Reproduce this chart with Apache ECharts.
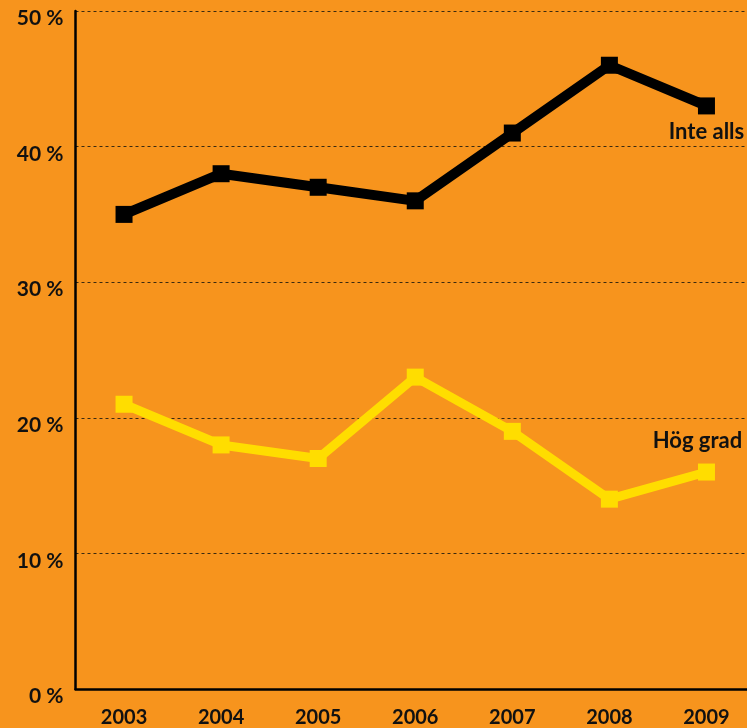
<!DOCTYPE html>
<html>
<head>
<meta charset="utf-8">
<script src="https://cdn.jsdelivr.net/npm/echarts@6/dist/echarts.min.js"></script>
<style>
html,body{margin:0;padding:0;background:#F7941D;overflow:hidden;}
#c{width:755px;height:728px;}
</style>
</head>
<body>
<div id="c"></div>
<script>
const years = ['2003','2004','2005','2006','2007','2008','2009'];
const inteAlls = [35, 38, 37, 36, 41, 46, 43];
const hogGrad = [21, 18, 17, 23, 19, 14, 16];
const seriesNames = ['Inte alls', 'Hög grad'];

const FONT = 'Lato';
const chart = echarts.init(document.getElementById('c'));

function withEndLabel(arr, labelCfg) {
  return arr.map((v, i) => i === arr.length - 1 ? { value: v, label: labelCfg } : v);
}

chart.setOption({
  backgroundColor: '#F7941D',
  animation: false,
  grid: { left: 75.5, right: 0, top: 11, bottom: 38.5 },
  xAxis: {
    type: 'category',
    data: years,
    boundaryGap: true,
    axisLine: { lineStyle: { color: '#000', width: 2.5 } },
    axisTick: { show: false },
    axisLabel: { color: '#111', fontFamily: FONT, fontWeight: 'bold', fontSize: 20, margin: 19 },
    splitLine: { show: false }
  },
  yAxis: {
    type: 'value',
    min: 0, max: 50, interval: 10,
    axisLine: { show: true, lineStyle: { color: '#000', width: 2.5 } },
    axisTick: { show: false },
    axisLabel: {
      formatter: '{value} %', color: '#111', fontFamily: FONT, fontWeight: 'bold',
      fontSize: 21, margin: 12, verticalAlign: 'top', lineHeight: 15
    },
    splitLine: { show: true, lineStyle: { color: '#3a2a10', width: 1, type: [3, 3] } }
  },
  series: [
    {
      name: seriesNames[0], type: 'line',
      data: withEndLabel(inteAlls, {
        show: true, formatter: seriesNames[0], position: 'bottom', distance: 6,
        color: '#111', fontFamily: FONT, fontWeight: 'bold', fontSize: 22
      }),
      symbol: 'rect', symbolSize: 17,
      lineStyle: { color: '#000', width: 10 },
      itemStyle: { color: '#000' },
      label: { show: false }
    },
    {
      name: seriesNames[1], type: 'line',
      data: withEndLabel(hogGrad, {
        show: true, formatter: seriesNames[1], position: 'top', distance: 12, offset: [-9, 0],
        color: '#111', fontFamily: FONT, fontWeight: 'bold', fontSize: 22
      }),
      symbol: 'rect', symbolSize: 17,
      lineStyle: { color: '#FFDD00', width: 9 },
      itemStyle: { color: '#FFDD00' },
      label: { show: false }
    }
  ]
});
</script>
</body>
</html>
